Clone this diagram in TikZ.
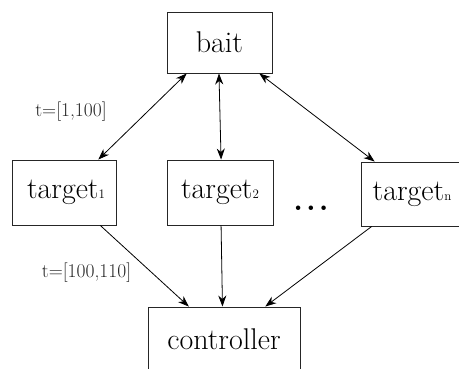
\documentclass[tikz,border=0pt]{standalone}
\usetikzlibrary{arrows.meta,calc}
\tikzset{
  box/.style={draw=black!85, line width=0.9pt, inner sep=0pt, font=\fontsize{30}{36}\selectfont},
  lbl/.style={font=\fontsize{19.5}{23}\selectfont, text=black!85, inner sep=0pt},
  tip/.tip={Stealth[length=11pt,width=8pt,inset=3.5pt]},
  link/.style={line width=0.8pt, -tip},
  both/.style={line width=0.8pt, tip-tip}
}
\newcommand{\sbs}[1]{{\fontsize{13}{15}\selectfont #1}}
\begin{document}
\begin{tikzpicture}[x=1pt,y=-1pt]
\useasboundingbox (0,0) rectangle (459,369);
\node[box, minimum width=105pt, minimum height=61pt] (bait) at (219.5,42.5) {bait\hspace{12pt}};
\node[box, minimum width=104pt, minimum height=65pt] (t1) at (64,192.5) {\hspace{4pt}target\sbs{1}};
\node[box, minimum width=106pt, minimum height=65pt] (t2) at (220,192.5) {target\sbs{2}};
\node[box, minimum width=102pt, minimum height=64pt] (tn) at (412,194) {target\sbs{n}};
\node[box, minimum width=152pt, minimum height=65pt] (ctrl) at (224,339.5) {controller};
\node[font=\fontsize{31}{36}\selectfont\bfseries, anchor=base, inner sep=0pt] (dots) at (311,211) {.\hspace{3pt}.\hspace{3pt}.};
\node[lbl] (l1) at (71,112) {t=[1,100]};
\node[lbl] (l2) at (86.5,272.5) {t=[100,110]};

\draw[both] ($(bait.south west)!0.19!(bait.south east)$) -- ($(t1.north west)!0.827!(t1.north east)$);
\draw[both] ($(bait.south west)!0.495!(bait.south east)$) -- ($(t2.north west)!0.51!(t2.north east)$);
\draw[both] ($(bait.south west)!0.876!(bait.south east)$) -- ($(tn.north west)!0.137!(tn.north east)$);
\draw[link] ($(t1.south west)!0.846!(t1.south east)$) -- ($(ctrl.north west)!0.27!(ctrl.north east)$);
\draw[link] ($(t2.south west)!0.51!(t2.south east)$) -- ($(ctrl.north west)!0.49!(ctrl.north east)$);
\draw[link] ($(tn.south west)!0.108!(tn.south east)$) -- ($(ctrl.north west)!0.77!(ctrl.north east)$);
\end{tikzpicture}
\end{document}
